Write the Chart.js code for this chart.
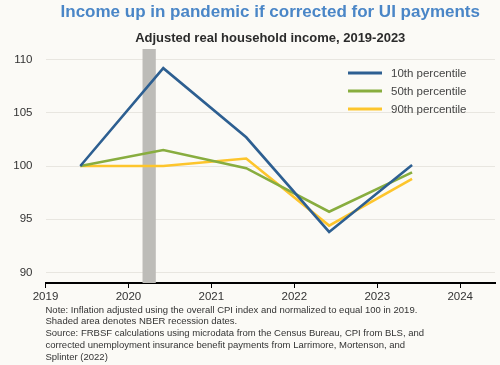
<!DOCTYPE html>
<html><head><meta charset="utf-8">
<script src="https://cdn.jsdelivr.net/npm/chart.js@4.4.1/dist/chart.umd.min.js"></script>
<style>html,body{margin:0;padding:0;background:#fbfaf6;}#wrap{width:500px;height:365px;position:relative;}</style>
</head><body><div id="wrap"><canvas id="c" width="500" height="365"></canvas></div>
<script>
const years = [2019.42, 2020.42, 2021.42, 2022.42, 2023.42];
const p10 = [100, 109.2, 102.7, 93.8, 100.1];
const p50 = [100, 101.5, 99.8, 95.7, 99.4];
const p90 = [100, 100.0, 100.7, 94.4, 98.8];
const seriesNames = ['10th percentile', '50th percentile', '90th percentile'];
const recession = [2020.17, 2020.33];
const xTicks = [2019, 2020, 2021, 2022, 2023, 2024];
const yTicks = [90, 95, 100, 105, 110];
const titleText = 'Income up in pandemic if corrected for UI payments';
const subtitleText = 'Adjusted real household income, 2019-2023';
const noteLines = [
  'Note: Inflation adjusted using the overall CPI index and normalized to equal 100 in 2019.',
  'Shaded area denotes NBER recession dates.',
  'Source: FRBSF calculations using microdata from the Census Bureau, CPI from BLS, and',
  'corrected unemployment insurance benefit payments from Larrimore, Mortenson, and',
  'Splinter (2022)'
];
const colors = ['#2d5f91', '#88ad3f', '#fdc52c'];
const FONT = '"Liberation Sans", Arial, sans-serif';

const mk = (vals) => years.map((x, i) => ({x: x, y: vals[i]}));

const recessionPlugin = {
  id: 'recession',
  beforeDatasetsDraw(chart) {
    const {ctx, chartArea, scales} = chart;
    const x0 = scales.x.getPixelForValue(recession[0]);
    const x1 = scales.x.getPixelForValue(recession[1]);
    ctx.save();
    ctx.fillStyle = '#bdbcb8';
    ctx.fillRect(x0, chartArea.top, x1 - x0, chartArea.bottom - chartArea.top);
    ctx.restore();
  }
};

const textPlugin = {
  id: 'texts',
  afterDraw(chart) {
    const {ctx, chartArea} = chart;
    const cx = (chartArea.left + chartArea.right) / 2;
    ctx.save();
    ctx.textAlign = 'center';
    ctx.textBaseline = 'middle';
    ctx.fillStyle = '#4a86c7';
    ctx.font = 'bold 17px ' + FONT;
    ctx.fillText(titleText, cx, 12);
    ctx.fillStyle = '#2b2b2b';
    ctx.font = 'bold 13px ' + FONT;
    ctx.fillText(subtitleText, cx, 38);
    // legend
    ctx.textAlign = 'left';
    ctx.font = '11.5px ' + FONT;
    chart.data.datasets.forEach((ds, i) => {
      const y = 73 + i * 18;
      ctx.strokeStyle = ds.borderColor;
      ctx.lineWidth = 3;
      ctx.beginPath();
      ctx.moveTo(chartArea.right - 147, y);
      ctx.lineTo(chartArea.right - 113, y);
      ctx.stroke();
      ctx.fillStyle = '#444';
      ctx.fillText(ds.label, chartArea.right - 104, y + 1);
    });
    // notes
    ctx.font = '9.5px ' + FONT;
    ctx.fillStyle = '#333';
    noteLines.forEach((l, i) => ctx.fillText(l, chartArea.left, 310 + i * 11.8));
    ctx.restore();
  }
};

new Chart(document.getElementById('c'), {
  type: 'line',
  data: {
    datasets: [
      {label: seriesNames[0], data: mk(p10), borderColor: colors[0]},
      {label: seriesNames[1], data: mk(p50), borderColor: colors[1]},
      {label: seriesNames[2], data: mk(p90), borderColor: colors[2]}
    ].map(d => Object.assign(d, {borderWidth: 2.6, pointRadius: 0, tension: 0, fill: false, backgroundColor: d.borderColor}))
  },
  options: {
    responsive: false,
    animation: false,
    devicePixelRatio: 1,
    layout: {padding: {top: 49, right: 5, left: 0, bottom: 0}},
    plugins: {legend: {display: false}, tooltip: {enabled: false}, title: {display: false}},
    scales: {
      x: {
        type: 'linear', min: 2019, max: 2024.42,
        afterBuildTicks: s => { s.ticks = xTicks.map(v => ({value: v})); },
        afterFit: s => { s.height = 82; },
        ticks: {font: {family: FONT, size: 11.5}, color: '#333', padding: 2, maxRotation: 0, callback: v => String(v)},
        grid: {drawOnChartArea: false, drawTicks: true, tickLength: 5, tickColor: '#000', tickWidth: 1},
        border: {display: true, color: '#000', width: 2}
      },
      y: {
        min: 89, max: 111,
        afterBuildTicks: s => { s.ticks = yTicks.map(v => ({value: v})); },
        afterFit: s => { s.width = 45.5; },
        ticks: {font: {family: FONT, size: 11.5}, color: '#333', padding: 13},
        grid: {color: '#e8e6e0', drawTicks: false, lineWidth: 1},
        border: {display: false}
      }
    }
  },
  plugins: [recessionPlugin, textPlugin]
});
</script></body></html>
